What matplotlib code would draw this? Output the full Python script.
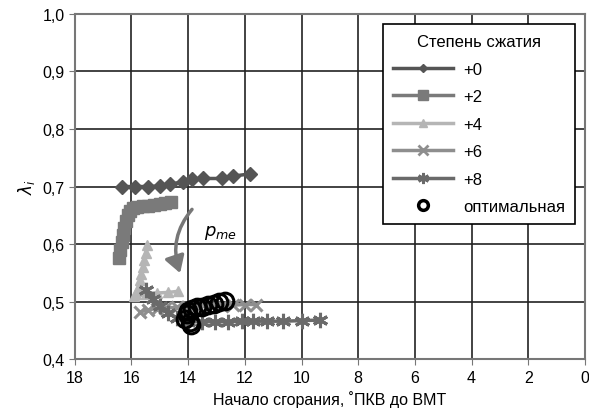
import matplotlib
matplotlib.use("Agg")
import matplotlib.pyplot as plt
from matplotlib.patches import FancyArrowPatch
from matplotlib.lines import Line2D
from matplotlib import font_manager

names = {f.name for f in font_manager.fontManager.ttflist}
fam = ["Liberation Sans Narrow", "Liberation Sans", "DejaVu Sans"]
fam = [f for f in fam if f in names] or ["DejaVu Sans"]
plt.rcParams['font.family'] = fam

# ---- data ----
x0 = [16.35, 15.88, 15.42, 15.0, 14.65, 14.19, 13.87, 13.48, 12.81, 12.42, 11.82]
y0 = [0.700, 0.700, 0.700, 0.701, 0.704, 0.708, 0.713, 0.714, 0.714, 0.718, 0.722]

x2 = [16.45, 16.4, 16.35, 16.3, 16.25, 16.2, 16.13, 16.05, 15.95, 15.8, 15.6, 15.4, 15.2, 15.0, 14.8, 14.6]
y2 = [0.575, 0.590, 0.603, 0.616, 0.628, 0.640, 0.650, 0.658, 0.662, 0.664, 0.666, 0.667, 0.668, 0.670, 0.671, 0.673]

x4 = [15.45, 15.5, 15.55, 15.6, 15.65, 15.7, 15.75, 15.8, 15.85, 15.9, 15.5, 15.1, 14.7, 14.35]
y4 = [0.598, 0.585, 0.572, 0.560, 0.548, 0.537, 0.527, 0.519, 0.513, 0.510, 0.513, 0.515, 0.516, 0.518]

x6 = [15.7, 15.4, 15.1, 14.8, 14.4, 14.0, 13.6, 13.2, 12.8, 12.4, 12.0, 11.6]
y6 = [0.482, 0.486, 0.488, 0.489, 0.490, 0.491, 0.491, 0.492, 0.493, 0.494, 0.495, 0.495]

x8 = [15.5, 15.25, 15.0, 14.7, 14.4, 14.0, 13.5, 13.06, 12.6, 12.1, 11.7, 11.2, 10.66, 10.0, 9.35]
y8 = [0.520, 0.505, 0.492, 0.480, 0.472, 0.465, 0.465, 0.465, 0.465, 0.466, 0.466, 0.466, 0.466, 0.467, 0.468]

xopt = [14.1, 14.05, 14.0, 13.95, 13.9, 13.85, 13.7, 13.5, 13.3, 13.1, 12.9, 12.7]
yopt = [0.470, 0.478, 0.484, 0.465, 0.460, 0.487, 0.490, 0.491, 0.494, 0.496, 0.499, 0.501]

labels = ["+0", "+2", "+4", "+6", "+8"]
xticks = [18, 16, 14, 12, 10, 8, 6, 4, 2, 0]
yticks = [0.4, 0.5, 0.6, 0.7, 0.8, 0.9, 1.0]

fig = plt.figure(figsize=(5.89, 4.14), dpi=100)
ax = fig.add_axes([0.127, 0.130, 0.866, 0.834])

ax.set_xlim(18, 0)
ax.set_ylim(0.4, 1.0)
ax.set_xticks(xticks)
ax.set_xticklabels([str(t) for t in xticks])
ax.set_yticks(yticks)
ax.set_yticklabels([f"{t:.1f}".replace(".", ",") for t in yticks])
ax.grid(True, color="#222222", linewidth=1.2)
ax.set_axisbelow(True)
for s in ax.spines.values():
    s.set_color("#777777")
    s.set_linewidth(1.5)
ax.tick_params(length=4, color="#777777", labelsize=11.5)

ax.plot(x0, y0, color="#555555", lw=2.5, marker="D", ms=7, mec="#555555")
ax.plot(x2, y2, color="#7a7a7a", lw=2.5, marker="s", ms=8, mec="#7a7a7a")
ax.plot(x4, y4, color="#b5b5b5", lw=2.5, marker="^", ms=7, mec="#b5b5b5")
ax.plot(x6, y6, color="#8e8e8e", lw=2.5, marker="x", ms=9, mew=2.2)
ax.plot(x8, y8, color="#6a6a6a", lw=2.5, marker=(6, 2, 0), ms=11, mew=2.2, mec="#6a6a6a")
ax.plot(xopt, yopt, ls="none", marker="o", ms=12, mfc="none", mec="black", mew=2.2)

h = [Line2D([], [], color="#555555", lw=2.5, marker="D", ms=4),
     Line2D([], [], color="#7a7a7a", lw=2.5, marker="s", ms=7),
     Line2D([], [], color="#b5b5b5", lw=2.5, marker="^", ms=6),
     Line2D([], [], color="#8e8e8e", lw=2.5, marker="x", ms=7, mew=2),
     Line2D([], [], color="#6a6a6a", lw=2.5, marker=(6, 2, 0), ms=8, mew=2),
     Line2D([], [], ls="none", marker="o", ms=7, mfc="none", mec="black", mew=2.5)]
leg = ax.legend(h, labels + ["оптимальная"], title="Степень сжатия", loc="upper right",
                bbox_to_anchor=(0.99, 0.985), fontsize=12, title_fontsize=12,
                fancybox=False, framealpha=1, edgecolor="black",
                handlelength=3.6, labelspacing=0.75, borderpad=0.6, handletextpad=0.6,
                borderaxespad=0.3)
leg.get_frame().set_linewidth(1.2)

arr = FancyArrowPatch((13.8, 0.664), (14.25, 0.545), connectionstyle="arc3,rad=0.3",
                      arrowstyle="-|>,head_length=10,head_width=6", color="#777777", lw=2.5,
                      mutation_scale=1)
ax.add_patch(arr)
ax.text(13.45, 0.615, r"$p_{me}$", fontsize=13)

ax.set_xlabel("Начало сгорания, ˚ПКВ до ВМТ", fontsize=11.5)
ax.set_ylabel(r"$\lambda_i$", fontsize=12)

fig.savefig("out.png", dpi=100)
